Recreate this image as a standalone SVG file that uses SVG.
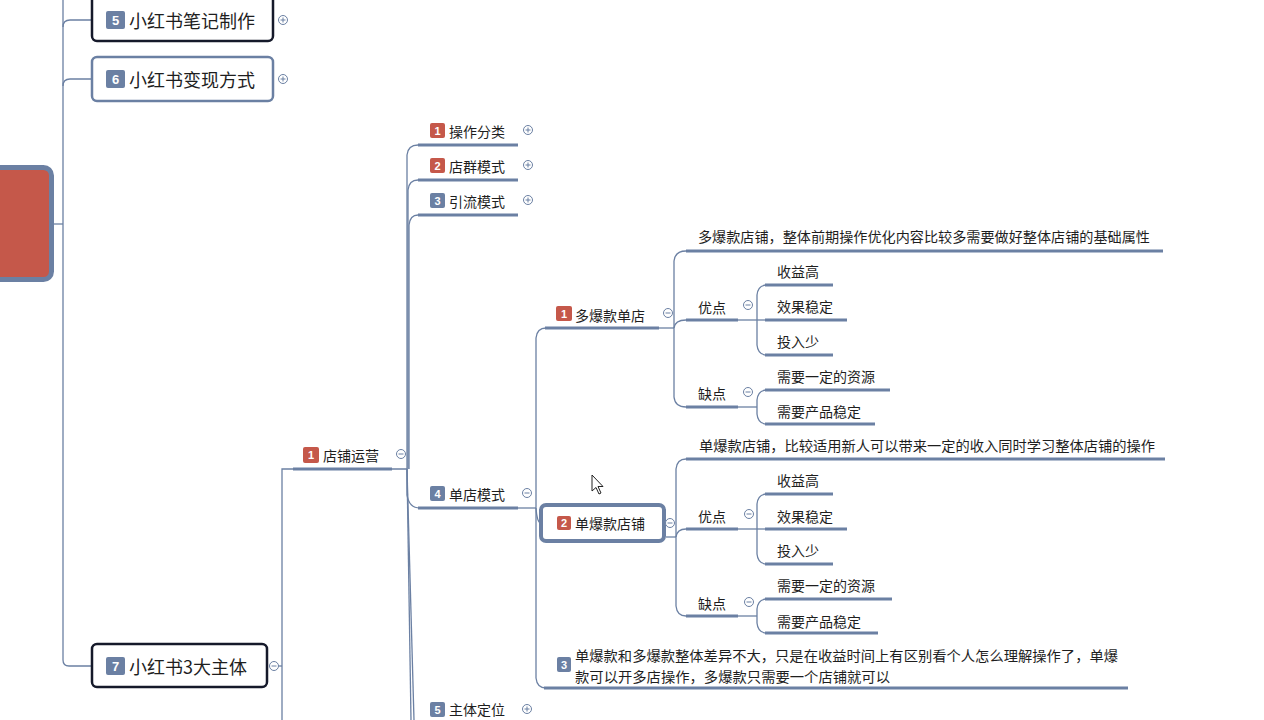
<svg xmlns="http://www.w3.org/2000/svg" width="1264" height="720" viewBox="0 0 1264 720">
<style>
.ln{fill:none;stroke:#6b80a3;stroke-width:1.3}
.ul{fill:none;stroke:#6b80a3;stroke-width:3}
.t{font-family:"Noto Sans CJK SC","Liberation Sans",sans-serif;fill:#1e1e1e;dominant-baseline:central}
.t14{font-size:14px}
.t18{font-size:18px}
.bg{font-family:"Liberation Sans",Arial,sans-serif;font-weight:bold;fill:#fff;font-size:11px;text-anchor:middle;dominant-baseline:central}
.bg13{font-size:13px}
.red{fill:#c5584a}
.blue{fill:#6b80a3}
.tg{fill:#fff;stroke:#6b80a3;stroke-width:1}
.tgl{stroke:#6b80a3;stroke-width:1}
</style>
<defs>
<g id="plus"><circle class="tg" r="4.5"/><path class="tgl" d="M-2.5,0H2.5M0,-2.5V2.5"/></g>
<g id="minus"><circle class="tg" r="4.5"/><path class="tgl" d="M-2.5,0H2.5"/></g>
</defs>
<rect width="1264" height="720" fill="#fff"/>

<g id="connectors">
<path class="ln" d="M63,0V660Q63,666 69,666H91"/>
<path class="ln" d="M54,224H63"/>
<path class="ln" d="M63,27Q63,20 70,20H91"/>
<path class="ln" d="M63,86Q63,79 70,79H91"/>
<path class="ln" d="M278.5,666H282"/>
<path class="ln" d="M282,720V469H407"/>
<path class="ln" d="M407,469V155Q408,145 418,145"/>
<path class="ln" d="M408,469V190Q409,180 418,180"/>
<path class="ln" d="M409,469V225Q410,215 418,215"/>
<path class="ln" d="M407,469V495Q409,508 420,508"/>
<path class="ln" d="M407,469C409,560 410,640 411,720"/>
<path class="ln" d="M407,469C410,560 412,640 414,720"/>
<path class="ln" d="M518,508H536"/>
<path class="ln" d="M536,508V338Q537,328 546,328"/>
<path class="ln" d="M536,508Q537,523 541,523"/>
<path class="ln" d="M536,508V678Q537,688 546,688"/>
<path class="ln" d="M659,328H674"/>
<path class="ln" d="M674,328V261Q675,251 686,251"/>
<path class="ln" d="M674,328Q675,320 686,320"/>
<path class="ln" d="M674,328V397Q675,407 686,407"/>
<path class="ln" d="M738,320H765"/>
<path class="ln" d="M757,320V295Q758,285 767,285"/>
<path class="ln" d="M757,320V345Q758,355 767,355"/>
<path class="ln" d="M738,407H757"/>
<path class="ln" d="M757,407V400Q758,390 767,390"/>
<path class="ln" d="M757,407V414Q758,424 767,424"/>
<path class="ln" d="M666,537H676"/>
<path class="ln" d="M676,537V469Q677,459 686,459"/>
<path class="ln" d="M676,537Q677,529 686,529"/>
<path class="ln" d="M676,537V606Q677,616 686,616"/>
<path class="ln" d="M738,529H765"/>
<path class="ln" d="M757,529V504Q758,494 767,494"/>
<path class="ln" d="M757,529V554Q758,564 767,564"/>
<path class="ln" d="M738,616H757"/>
<path class="ln" d="M757,616V609Q758,599 767,599"/>
<path class="ln" d="M757,616V623Q758,633 767,633"/>
</g>

<g id="root"><rect x="-10" y="167.5" width="61.5" height="112" rx="8" fill="#c5584a" stroke="#6b80a3" stroke-width="5"/></g>

<g id="n5">
<rect x="92" y="-6" width="181" height="47" rx="5" fill="#fff" stroke="#15192a" stroke-width="2.5"/>
<rect x="106" y="11" width="19" height="18" rx="2" class="blue"/><text class="bg bg13" x="115.5" y="20">5</text>
<text class="t t18" x="129" y="20">小红书笔记制作</text>
<use href="#plus" x="283" y="20"/>
</g>
<g id="n6">
<rect x="92" y="57" width="181" height="44" rx="5" fill="#fff" stroke="#6b80a3" stroke-width="2.5"/>
<rect x="106" y="70" width="19" height="18" rx="2" class="blue"/><text class="bg bg13" x="115.5" y="79">6</text>
<text class="t t18" x="129" y="79">小红书变现方式</text>
<use href="#plus" x="283" y="79"/>
</g>
<g id="n7">
<rect x="92" y="644" width="175" height="43" rx="5" fill="#fff" stroke="#15192a" stroke-width="2.5"/>
<rect x="106" y="657" width="19" height="18" rx="2" class="blue"/><text class="bg bg13" x="115.5" y="666">7</text>
<text class="t t18" x="129" y="666">小红书3大主体</text>
<use href="#minus" x="274" y="666"/>
</g>

<g id="dianpu">
<rect x="303" y="447" width="16" height="16" rx="2" class="red"/><text class="bg" x="311" y="455">1</text>
<text class="t t14" x="323" y="455">店铺运营</text>
<path class="ul" d="M293,469H392"/>
<use href="#minus" x="401" y="454"/>
</g>

<g id="caozuo">
<rect x="430" y="123" width="15" height="15" rx="2" class="red"/><text class="bg" x="437.5" y="130.5">1</text>
<text class="t t14" x="449" y="131">操作分类</text>
<path class="ul" d="M418,145H518"/>
<use href="#plus" x="528" y="130"/>
</g>
<g id="dianqun">
<rect x="430" y="158" width="15" height="15" rx="2" class="red"/><text class="bg" x="437.5" y="165.5">2</text>
<text class="t t14" x="449" y="166">店群模式</text>
<path class="ul" d="M418,180H518"/>
<use href="#plus" x="528" y="165"/>
</g>
<g id="yinliu">
<rect x="430" y="193" width="15" height="15" rx="2" class="blue"/><text class="bg" x="437.5" y="200.5">3</text>
<text class="t t14" x="449" y="201">引流模式</text>
<path class="ul" d="M418,215H518"/>
<use href="#plus" x="528" y="200"/>
</g>
<g id="dandian">
<rect x="430" y="486" width="15" height="15" rx="2" class="blue"/><text class="bg" x="437.5" y="493.5">4</text>
<text class="t t14" x="449" y="494">单店模式</text>
<path class="ul" d="M418,508H518"/>
<use href="#minus" x="527" y="493"/>
</g>
<g id="zhuti">
<rect x="430" y="702" width="15" height="15" rx="2" class="blue"/><text class="bg" x="437.5" y="709.5">5</text>
<text class="t t14" x="449" y="709">主体定位</text>
<use href="#plus" x="527" y="709"/>
</g>

<g id="duobao">
<rect x="556" y="306" width="16" height="15" rx="2" class="red"/><text class="bg" x="564" y="313.5">1</text>
<text class="t t14" x="575" y="315">多爆款单店</text>
<path class="ul" d="M545,328H659"/>
<use href="#minus" x="668" y="313"/>
</g>
<g id="duobao-desc">
<text class="t t14" x="698" y="236" textLength="452" lengthAdjust="spacingAndGlyphs">多爆款店铺，整体前期操作优化内容比较多需要做好整体店铺的基础属性</text>
<path class="ul" d="M686,251H1163"/>
</g>
<g id="duobao-you">
<text class="t t14" x="698" y="307">优点</text>
<path class="ul" d="M686,320H738"/>
<use href="#minus" x="748" y="305"/>
</g>
<g id="duobao-you1"><text class="t t14" x="777" y="271">收益高</text><path class="ul" d="M765,285H833"/></g>
<g id="duobao-you2"><text class="t t14" x="777" y="306">效果稳定</text><path class="ul" d="M765,320H847"/></g>
<g id="duobao-you3"><text class="t t14" x="777" y="341">投入少</text><path class="ul" d="M765,355H833"/></g>
<g id="duobao-que">
<text class="t t14" x="698" y="393">缺点</text>
<path class="ul" d="M686,407H738"/>
<use href="#minus" x="748" y="392"/>
</g>
<g id="duobao-que1"><text class="t t14" x="777" y="376">需要一定的资源</text><path class="ul" d="M765,390H890"/></g>
<g id="duobao-que2"><text class="t t14" x="777" y="411">需要产品稳定</text><path class="ul" d="M765,424H875"/></g>

<g id="danbao">
<rect x="541" y="505" width="123" height="36" rx="5" fill="#fff" stroke="#6b80a3" stroke-width="4"/>
<rect x="557" y="516" width="14" height="14" rx="2" class="red"/><text class="bg" x="564" y="523">2</text>
<text class="t t14" x="575" y="523">单爆款店铺</text>
<use href="#minus" x="670" y="523"/>
</g>
<g id="danbao-desc">
<text class="t t14" x="699" y="445" textLength="456" lengthAdjust="spacingAndGlyphs">单爆款店铺，比较适用新人可以带来一定的收入同时学习整体店铺的操作</text>
<path class="ul" d="M686,459H1165"/>
</g>
<g id="danbao-you">
<text class="t t14" x="698" y="516">优点</text>
<path class="ul" d="M686,529H738"/>
<use href="#minus" x="749" y="514"/>
</g>
<g id="danbao-you1"><text class="t t14" x="777" y="480">收益高</text><path class="ul" d="M765,494H833"/></g>
<g id="danbao-you2"><text class="t t14" x="777" y="516">效果稳定</text><path class="ul" d="M765,529H847"/></g>
<g id="danbao-you3"><text class="t t14" x="777" y="550">投入少</text><path class="ul" d="M765,564H833"/></g>
<g id="danbao-que">
<text class="t t14" x="698" y="603">缺点</text>
<path class="ul" d="M686,616H738"/>
<use href="#minus" x="749" y="602"/>
</g>
<g id="danbao-que1"><text class="t t14" x="777" y="585">需要一定的资源</text><path class="ul" d="M765,599H892"/></g>
<g id="danbao-que2"><text class="t t14" x="777" y="621">需要产品稳定</text><path class="ul" d="M765,633H878"/></g>

<g id="compare">
<rect x="557" y="657" width="14" height="15" rx="2" class="blue"/><text class="bg" x="564" y="664.5">3</text>
<text class="t t14" x="575" y="655" textLength="543" lengthAdjust="spacingAndGlyphs">单爆款和多爆款整体差异不大，只是在收益时间上有区别看个人怎么理解操作了，单爆</text>
<text class="t t14" x="575" y="676" textLength="315" lengthAdjust="spacingAndGlyphs">款可以开多店操作，多爆款只需要一个店铺就可以</text>
<path class="ul" d="M544,688H1128"/>
</g>

<path d="M592,475V491L596,487.5L599,494L601,493L598,486.5H603Z" fill="#fff" stroke="#222" stroke-width="1"/>
</svg>
